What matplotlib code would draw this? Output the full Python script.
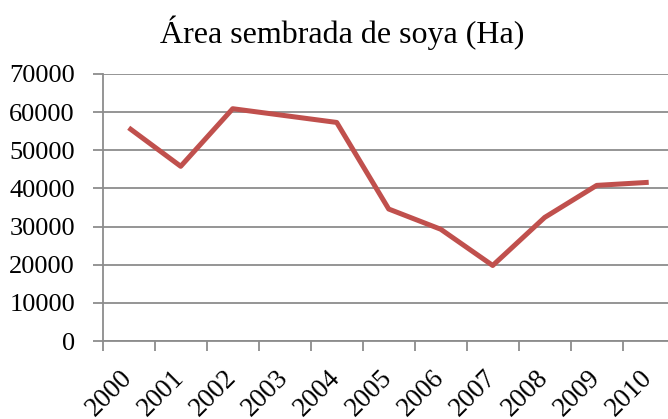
import matplotlib.pyplot as plt

years = ['2000', '2001', '2002', '2003', '2004', '2005',
         '2006', '2007', '2008', '2009', '2010']
area_ha = [55900, 45800, 60900, 59100, 57300, 34600,
           29300, 19800, 32400, 40800, 41600]
y_ticks = [0, 10000, 20000, 30000, 40000, 50000, 60000, 70000]

plt.rcParams['font.family'] = ['Liberation Serif', 'DejaVu Serif']
grey = '#8c8c8c'

fig = plt.figure(figsize=(6.68, 4.19), dpi=100)
W, H = 668, 419
ax = fig.add_axes([102.7 / W, 78 / H, 572 / W, 267 / H])

x = list(range(len(years)))
ax.plot(x, area_ha, color='#C0504D', linewidth=3.6, solid_joinstyle='round',
        solid_capstyle='butt', zorder=3)

ax.set_xlim(-0.5, len(years) - 0.5)
ax.set_ylim(0, 70000)
ax.set_yticks(y_ticks)
ax.set_yticklabels([str(v) for v in y_ticks], fontsize=19)
ax.yaxis.grid(True, color=grey, linewidth=1.3)
ax.set_axisbelow(True)

# tick marks between categories, labels at category centres
ax.set_xticks([i - 0.5 for i in range(len(years) + 1)])
ax.set_xticklabels([])
ax.set_xticks(x, minor=True)
ax.set_xticklabels(years, minor=True, fontsize=19.5, rotation=45,
                   ha='right', va='center', rotation_mode='anchor')
ax.tick_params(axis='x', which='minor', length=0, pad=24)
ax.tick_params(axis='x', which='major', length=7, width=1.3, color=grey)
ax.tick_params(axis='y', length=7.5, width=1.3, color=grey, pad=12.5)

for side in ('top', 'right'):
    ax.spines[side].set_visible(False)
for side in ('left', 'bottom'):
    ax.spines[side].set_color(grey)
    ax.spines[side].set_linewidth(1.3)

fig.text(342 / W, 1 - 33 / H, 'Área sembrada de soya (Ha)', fontsize=23,
         ha='center', va='center')

fig.savefig('out.png', dpi=100)
